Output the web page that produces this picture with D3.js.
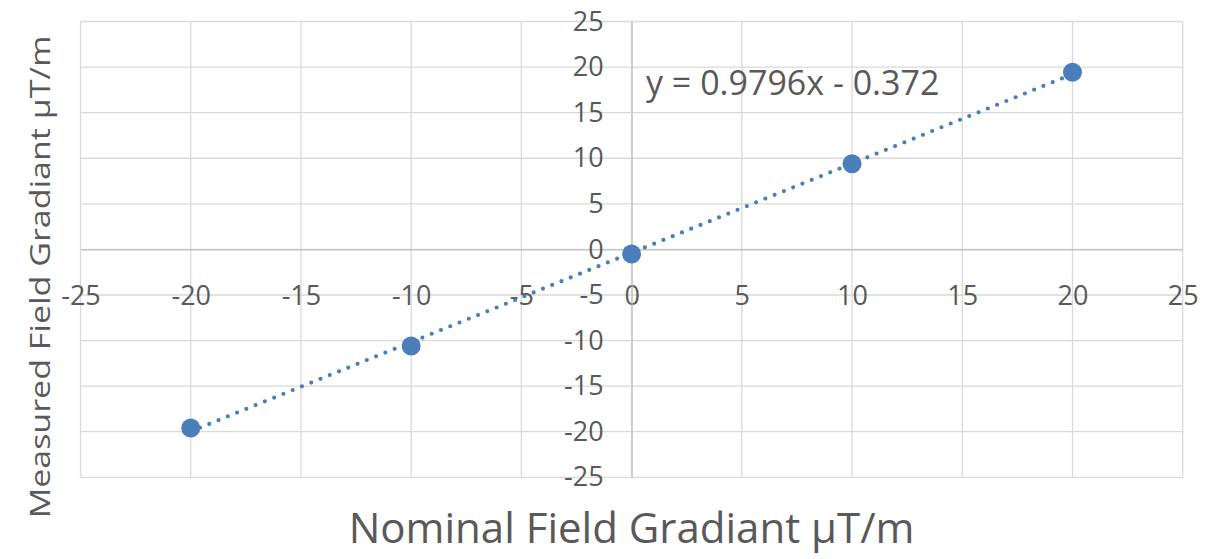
<!DOCTYPE html>
<html>
<head>
<meta charset="utf-8">
<script src="https://cdn.jsdelivr.net/npm/d3@7"></script>
<style>
  html, body { margin: 0; padding: 0; background: #fff; }
  svg { display: block; }
  text { font-family: "Open Sans", "DejaVu Sans", sans-serif; fill: #595959; }
</style>
</head>
<body>
<svg id="chart" width="1217" height="559"></svg>
<script>
// ---- data ----
const nominal = [-20, -10, 0, 10, 20];
const measured = [-19.6, -10.6, -0.5, 9.4, 19.44];
const xTicks = [-25, -20, -15, -10, -5, 0, 5, 10, 15, 20, 25];
const yTicks = [-25, -20, -15, -10, -5, 0, 5, 10, 15, 20, 25];
const trendSlope = 0.9796;
const trendIntercept = -0.372;
const trendLabel = "y = 0.9796x - 0.372";
const xTitle = "Nominal Field Gradiant \u03BCT/m";
const yTitle = "Measured Field Gradiant \u03BCT/m";

// ---- layout ----
const svg = d3.select("#chart");
const x = d3.scaleLinear().domain([-25, 25]).range([80.5, 1182.7]);
const y = d3.scaleLinear().domain([-25, 25]).range([477.3, 21.5]);
const gridColor = "#d9d9d9";
const axisColor = "#bfbfbf";
const blue = "#4a7ebb";
const fmt = d => String(d);

// gridlines
const grid = svg.append("g");
grid.selectAll("line.v").data(xTicks).join("line")
  .attr("x1", d => x(d)).attr("x2", d => x(d))
  .attr("y1", y(25)).attr("y2", y(-25))
  .attr("stroke", gridColor).attr("stroke-width", 1.3);
grid.selectAll("line.h").data(yTicks).join("line")
  .attr("y1", d => y(d)).attr("y2", d => y(d))
  .attr("x1", x(-25)).attr("x2", x(25))
  .attr("stroke", gridColor).attr("stroke-width", 1.3);

// x axis through y=0
const gx = svg.append("g")
  .attr("transform", `translate(0,${y(0)})`)
  .call(d3.axisBottom(x).tickValues(xTicks).tickSize(0).tickPadding(36).tickFormat(fmt));
gx.select(".domain").attr("stroke", axisColor).attr("stroke-width", 1.3);
gx.selectAll("text").style("font-size", "27px").attr("fill", "#595959")
  .style("font-family", "'Open Sans', sans-serif");

// y axis through x=0
const gy = svg.append("g")
  .attr("transform", `translate(${x(0)},0)`)
  .call(d3.axisLeft(y).tickValues(yTicks).tickSize(0).tickPadding(28).tickFormat(fmt));
gy.select(".domain").attr("stroke", axisColor).attr("stroke-width", 1.3);
gy.selectAll("text").style("font-size", "27px").attr("fill", "#595959")
  .style("font-family", "'Open Sans', sans-serif");

// trendline
const xs = d3.extent(nominal);
svg.append("line")
  .attr("x1", x(xs[0])).attr("y1", y(trendSlope * xs[0] + trendIntercept))
  .attr("x2", x(xs[1])).attr("y2", y(trendSlope * xs[1] + trendIntercept))
  .attr("stroke", blue).attr("stroke-width", 4.2)
  .attr("stroke-linecap", "round").attr("stroke-dasharray", "0 10");

// points
svg.append("g").selectAll("circle").data(nominal).join("circle")
  .attr("cx", d => x(d))
  .attr("cy", (d, i) => y(measured[i]))
  .attr("r", 9.5)
  .attr("fill", blue);

// trend equation
svg.append("text")
  .attr("x", 646).attr("y", 95)
  .style("font-size", "34px")
  .text(trendLabel);

// axis titles
svg.append("text")
  .attr("x", x(0)).attr("y", 543)
  .attr("text-anchor", "middle")
  .style("font-size", "42px")
  .text(xTitle);

svg.append("text")
  .attr("transform", "translate(50,277) rotate(-90) scale(1,0.82)")
  .attr("text-anchor", "middle")
  .style("font-size", "34px")
  .text(yTitle);
</script>
</body>
</html>
